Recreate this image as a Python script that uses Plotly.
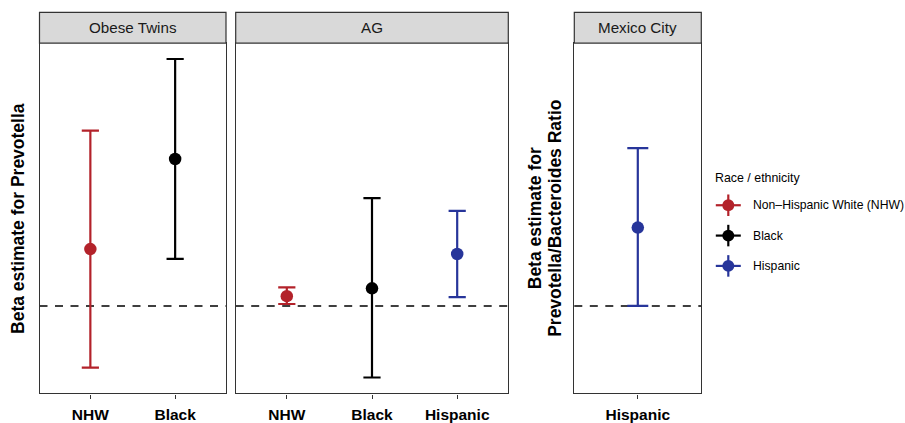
import plotly.graph_objects as go

# ---------------- data ----------------
groups = ["Non\u2013Hispanic White (NHW)", "Black", "Hispanic"]
group_short = ["NHW", "Black", "Hispanic"]
group_colors = ["#B3222A", "#000000", "#27359A"]

panel_titles = ["Obese Twins", "AG", "Mexico City"]

twins_cats = ["NHW", "Black"]
twins_beta = [0.58, 1.50]
twins_lo = [-0.63, 0.48]
twins_hi = [1.79, 2.52]

ag_cats = ["NHW", "Black", "Hispanic"]
ag_beta = [0.10, 0.18, 0.53]
ag_lo = [0.02, -0.73, 0.09]
ag_hi = [0.19, 1.10, 0.97]

mx_cats = ["Hispanic"]
mx_beta = [0.80]
mx_lo = [0.00]
mx_hi = [1.61]

ytitle_left = "Beta estimate for Prevotella"
ytitle_right = ["Beta estimate for", "Prevotella/Bacteroides Ratio"]
legend_title = "Race / ethnicity"

# ---------------- layout helpers ----------------
W, H = 905, 423
FONT = "Liberation Sans, Arial, Helvetica, sans-serif"


def px_x(p):
    return p / W


def px_y(p):
    return 1 - p / H


panel_px = [(39.5, 226.0), (235.7, 508.3), (574.3, 701.3)]
plot_top, plot_bot = 44.0, 402.0
strip_top = 12.7

panels = [
    (twins_cats, twins_beta, twins_lo, twins_hi),
    (ag_cats, ag_beta, ag_lo, ag_hi),
    (mx_cats, mx_beta, mx_lo, mx_hi),
]

all_lo = twins_lo + ag_lo
all_hi = twins_hi + ag_hi
span = max(all_hi) - min(all_lo)
yrange = [min(all_lo) - 0.05 * span, max(all_hi) + 0.05 * span]

fig = go.Figure()

cap_w = [8.6, 8.6, 10.5]
for pi, (cats, beta, lo, hi) in enumerate(panels):
    ax = "" if pi == 0 else str(pi + 1)
    for c, b, l, h in zip(cats, beta, lo, hi):
        gi = group_short.index(c)
        col = group_colors[gi]
        fig.add_trace(go.Scatter(
            x=[c], y=[b], mode="markers",
            xaxis="x" + ax, yaxis="y" + ax,
            marker=dict(color=col, size=12.5),
            error_y=dict(type="data", symmetric=False,
                         array=[h - b], arrayminus=[b - l],
                         color=col, thickness=2.2, width=cap_w[pi]),
            showlegend=False, hoverinfo="skip",
        ))

layout = dict(
    width=W, height=H,
    margin=dict(l=0, r=0, t=0, b=0),
    paper_bgcolor="white", plot_bgcolor="white",
    font=dict(family=FONT, color="#000000"),
    showlegend=False,
)

ydom = [px_y(plot_bot), px_y(plot_top)]
shapes = []
annotations = []
for pi, (cats, beta, lo, hi) in enumerate(panels):
    ax = "" if pi == 0 else str(pi + 1)
    x0p, x1p = panel_px[pi]
    layout["xaxis" + ax] = dict(
        domain=[px_x(x0p), px_x(x1p)], anchor="y" + ax,
        type="category", categoryorder="array", categoryarray=cats,
        range=[-0.6, len(cats) - 0.4],
        showline=True, mirror=True, linecolor="#333333", linewidth=1.2,
        ticks="outside", ticklen=4, tickwidth=1.2, tickcolor="#333333",
        ticklabelstandoff=3,
        tickfont=dict(family=FONT, size=15.5, color="#000000", weight="bold"),
        showgrid=False, zeroline=False, fixedrange=True,
    )
    layout["yaxis" + ax] = dict(
        domain=ydom, anchor="x" + ax, range=yrange,
        showline=True, mirror=True, linecolor="#333333", linewidth=1.2,
        showticklabels=False, ticks="", showgrid=False, zeroline=False,
        fixedrange=True,
    )
    # dashed reference line at 0
    shapes.append(dict(type="line", xref="x" + ax + " domain", yref="y" + ax,
                       x0=0, x1=1, y0=0, y1=0, layer="below",
                       line=dict(color="#000000", width=1.6, dash="8px,7.5px")))
    # strip
    shapes.append(dict(type="rect", xref="paper", yref="paper",
                       x0=px_x(x0p), x1=px_x(x1p), y0=px_y(plot_top), y1=px_y(strip_top),
                       fillcolor="#D9D9D9", line=dict(color="#333333", width=1.2)))
    annotations.append(dict(text=panel_titles[pi], xref="paper", yref="paper",
                            x=px_x((x0p + x1p) / 2), y=px_y((plot_top + strip_top) / 2),
                            xanchor="center", yanchor="middle", showarrow=False,
                            font=dict(family=FONT, size=15.2, color="#1A1A1A")))

# y-axis titles
annotations.append(dict(text=ytitle_left, xref="paper", yref="paper",
                        x=px_x(18.7), y=px_y((plot_top + plot_bot) / 2), textangle=-90,
                        xanchor="center", yanchor="middle", showarrow=False,
                        font=dict(family=FONT, size=17.5, color="#000000", weight="bold")))
for li, xpos in zip(range(2), [535.0, 555.6]):
    annotations.append(dict(text=ytitle_right[li], xref="paper", yref="paper",
                            x=px_x(xpos), y=px_y((plot_top + plot_bot) / 2), textangle=-90,
                            xanchor="center", yanchor="middle", showarrow=False,
                            font=dict(family=FONT, size=17.5, color="#000000", weight="bold")))

# legend (manual, pointrange style keys)
leg_x = 728.3
leg_title_y = 181.7
leg_y0 = 209.7
leg_dy = 31.0
annotations.append(dict(text=legend_title, xref="paper", yref="paper",
                        x=px_x(712.5), y=px_y(leg_title_y), xanchor="left", yanchor="middle",
                        showarrow=False, font=dict(family=FONT, size=12.4, color="#000000")))
for gi, (g, col) in enumerate(zip(groups, group_colors)):
    yc = leg_y0 + gi * leg_dy
    shapes.append(dict(type="line", xref="paper", yref="paper",
                       x0=px_x(leg_x - 12.5), x1=px_x(leg_x + 12.5),
                       y0=px_y(yc), y1=px_y(yc), line=dict(color=col, width=2.2)))
    shapes.append(dict(type="line", xref="paper", yref="paper",
                       x0=px_x(leg_x), x1=px_x(leg_x),
                       y0=px_y(yc - 11), y1=px_y(yc + 11), line=dict(color=col, width=2.2)))
    shapes.append(dict(type="circle", xref="paper", yref="paper",
                       x0=px_x(leg_x - 6), x1=px_x(leg_x + 6),
                       y0=px_y(yc - 6), y1=px_y(yc + 6),
                       fillcolor=col, line=dict(color=col, width=0)))
    annotations.append(dict(text=g, xref="paper", yref="paper",
                            x=px_x(750.5), y=px_y(yc), xanchor="left", yanchor="middle",
                            showarrow=False, font=dict(family=FONT, size=12.2, color="#000000")))

layout["shapes"] = shapes
layout["annotations"] = annotations
fig.update_layout(**layout)

# remove the browser's default 8px page margin so the figure sits at (0, 0)
fig.write_html(
    "out.html",
    config={"displayModeBar": False},
    post_script="document.body.style.margin='0';document.body.style.overflow='hidden';",
)
